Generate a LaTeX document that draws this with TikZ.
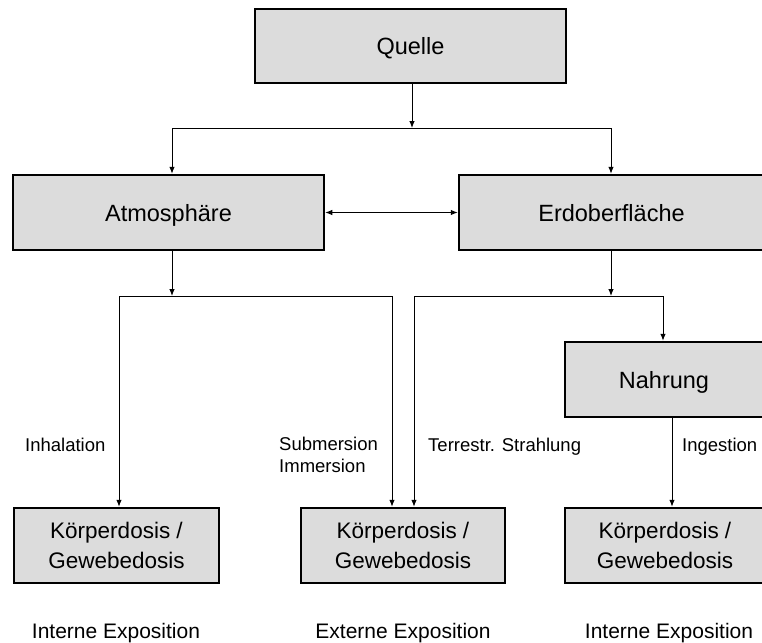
\documentclass[tikz,border=0pt]{standalone}
\usepackage{fontspec}
\setmainfont{Liberation Sans}
\usetikzlibrary{arrows.meta}
\definecolor{boxgray}{RGB}{220,220,220}
\begin{document}
\begin{tikzpicture}[x=1pt,y=-1pt,
  box/.style={draw=black, line width=2.5pt, fill=boxgray, inner sep=0pt, minimum height=75pt,
    text height=17pt, text depth=0pt, font=\fontsize{23.5}{28}\selectfont},
  dosebox/.style={draw=black, line width=2.5pt, fill=boxgray, inner sep=0pt, minimum height=75pt,
    align=center, font=\fontsize{22.5}{30}\selectfont},
  conn/.style={draw=black, line width=0.9pt},
  arr/.style={conn, -{Latex[length=7pt,width=5.5pt]}},
  darr/.style={conn, {Latex[length=7pt,width=5.5pt]}-{Latex[length=7pt,width=5.5pt]}},
  lbl/.style={inner sep=0pt, font=\fontsize{18.5}{22}\selectfont},
  expo/.style={inner sep=0pt, anchor=base, font=\fontsize{21}{25}\selectfont}]
\useasboundingbox (0,0) rectangle (762,642);
% boxes
\node[box, minimum width=311pt, minimum height=74pt] (q) at (410.5,46) {Quelle};
\node[box, minimum width=311pt] (a) at (168.5,212.5) {Atmosphäre};
\node[box, minimum width=305pt] (e) at (611.5,212.5) {Erdoberfläche};
\node[box, minimum width=198pt] (n) at (664,379.5) {Nahrung};
\node[dosebox, minimum width=205pt] (k1) at (116.5,545.5) {Körperdosis /\\Gewebedosis};
\node[dosebox, minimum width=204pt] (k2) at (403,545.5) {Körperdosis /\\Gewebedosis};
\node[dosebox, minimum width=200pt] (k3) at (665,545.5) {Körperdosis /\\Gewebedosis};
% junctions
\coordinate (jq) at (412,128);
\coordinate (ja) at (172,128);
\coordinate (je) at (611,128);
\coordinate (ja2) at (172,296);
\coordinate (l1) at (119,296);
\coordinate (l2) at (392,296);
\coordinate (je2) at (611,296);
\coordinate (r1) at (414,296);
\coordinate (r2) at (663,296);
\coordinate (jn) at (672,0);
% connectors
\draw[arr] (jq |- q.south) -- (jq);
\draw[conn] (ja) -- (je);
\draw[arr] (ja) -- (ja |- a.north);
\draw[arr] (je) -- (je |- e.north);
\draw[darr] (a.east) -- (e.west);
\draw[arr] (ja2 |- a.south) -- (ja2);
\draw[conn] (l1) -- (l2);
\draw[arr] (l1) -- (l1 |- k1.north);
\draw[arr] (l2) -- (l2 |- k2.north);
\draw[arr] (je2 |- e.south) -- (je2);
\draw[conn] (r1) -- (r2);
\draw[arr] (r1) -- (r1 |- k2.north);
\draw[arr] (r2) -- (r2 |- n.north);
\draw[arr] (jn |- n.south) -- (jn |- k3.north);
% labels
\node[lbl, anchor=base west] (inh) at (25,451) {Inhalation};
\node[lbl, anchor=north west, align=left] (sub) at (279,437) {Submersion\\Immersion};
\node[lbl, anchor=base west] (ter) at (428,451) {Terrestr. Strahlung};
\node[lbl, anchor=base west] (ing) at (682,451) {Ingestion};
\node[expo] (x1) at (116,638) {Interne Exposition};
\node[expo] (x2) at (403,638) {Externe Exposition};
\node[expo] (x3) at (669,638) {Interne Exposition};
\end{tikzpicture}
\end{document}
